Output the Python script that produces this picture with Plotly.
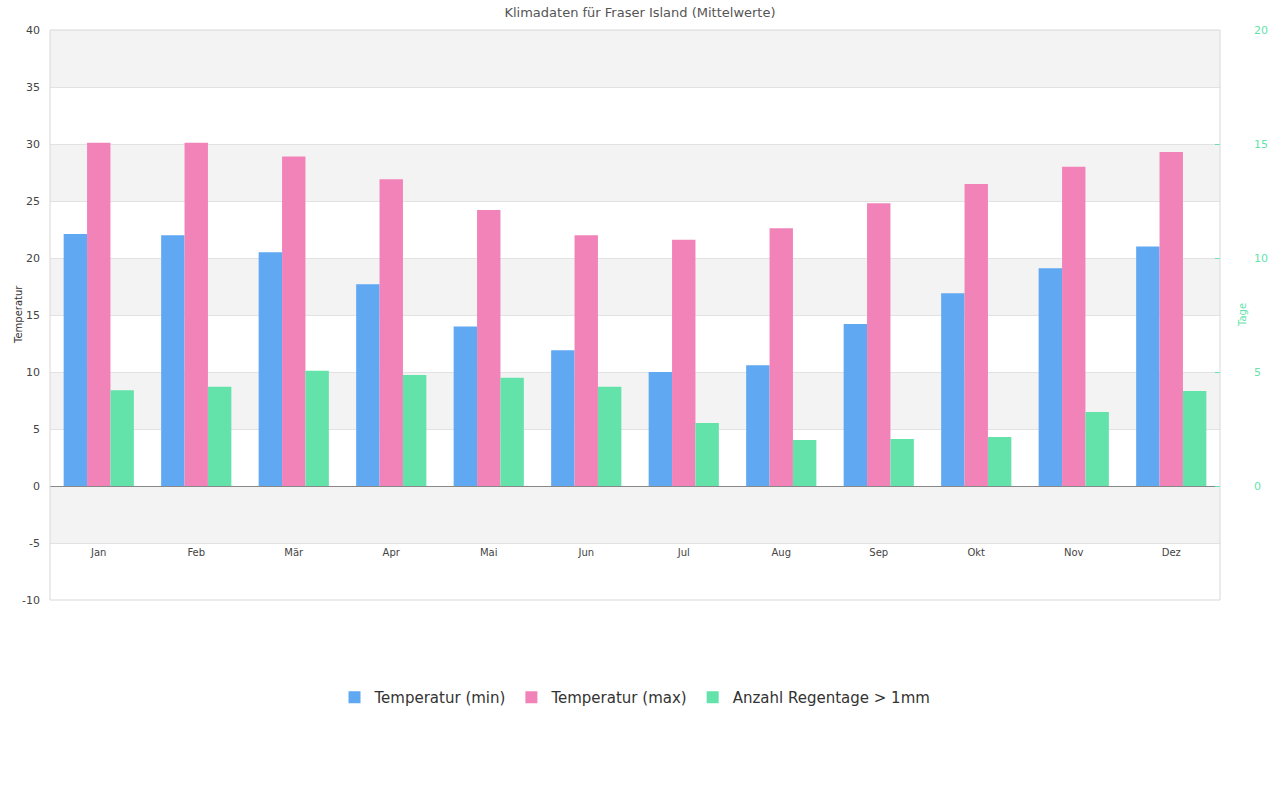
import plotly.graph_objects as go

months = ["Jan", "Feb", "Mär", "Apr", "Mai", "Jun", "Jul", "Aug", "Sep", "Okt", "Nov", "Dez"]
temp_min = [22.1, 22.0, 20.5, 17.7, 14.0, 11.9, 10.0, 10.6, 14.2, 16.9, 19.1, 21.0]
temp_max = [30.1, 30.1, 28.9, 26.9, 24.2, 22.0, 21.6, 22.6, 24.8, 26.5, 28.0, 29.3]
rain_days = [4.2, 4.35, 5.05, 4.87, 4.75, 4.35, 2.76, 2.02, 2.06, 2.15, 3.25, 4.17]

left_ticks = [-10, -5, 0, 5, 10, 15, 20, 25, 30, 35, 40]
left_tick_text = ["-10", "-5", "0", "5", "10", "15", "20", "25", "30", "35", "40"]
right_ticks = [0, 5, 10, 15, 20]
bands = [(35, 40), (25, 30), (15, 20), (5, 10), (-5, 0)]

BLUE = "#61a8f3"
PINK = "#f283b9"
GREEN = "#63e3aa"
FONT = "DejaVu Sans"

fig = go.Figure()
fig.add_trace(go.Bar(x=months, y=temp_min, name="Temperatur (min)", marker=dict(color=BLUE, line=dict(width=0)),
                     width=0.24, offset=-0.36, yaxis="y"))
fig.add_trace(go.Bar(x=months, y=temp_max, name="Temperatur (max)", marker=dict(color=PINK, line=dict(width=0)),
                     width=0.24, offset=-0.12, yaxis="y"))
fig.add_trace(go.Bar(x=months, y=rain_days, name="Anzahl Regentage > 1mm", marker=dict(color=GREEN, line=dict(width=0)),
                     width=0.24, offset=0.12, yaxis="y2"))

shapes = []
for lo, hi in bands:
    shapes.append(dict(type="rect", xref="paper", yref="y", x0=0, x1=1, y0=lo, y1=hi,
                       fillcolor="#f3f3f3", line=dict(width=0), layer="below"))
shapes.append(dict(type="rect", xref="paper", yref="paper", x0=0, x1=1, y0=0, y1=1,
                   line=dict(color="#d8d8d8", width=1), fillcolor="rgba(0,0,0,0)", layer="above"))

annotations = [
    dict(text="Temperatur", xref="paper", yref="paper", x=0, y=0.5, xshift=-32, textangle=-90,
         showarrow=False, font=dict(size=10, color="#333333"), xanchor="center", yanchor="middle"),
    dict(text="Tage", xref="paper", yref="paper", x=1, y=0.5, xshift=22, textangle=-90,
         showarrow=False, font=dict(size=10, color=GREEN), xanchor="center", yanchor="middle"),
]

fig.update_layout(
    width=1280, height=800,
    margin=dict(l=50, r=60, t=30, b=200),
    paper_bgcolor="white", plot_bgcolor="white",
    font=dict(family=FONT, color="#333333"),
    title=dict(text="Klimadaten für Fraser Island (Mittelwerte)", x=0.5, xanchor="center",
               y=0.985, yanchor="middle", font=dict(size=13, color="#555555")),
    barmode="overlay",
    showlegend=True,
    legend=dict(orientation="h", x=0.5, xanchor="center", y=-0.171, yanchor="middle",
                font=dict(size=15, color="#333333")),
    shapes=shapes,
    annotations=annotations,
    xaxis=dict(anchor="free", position=0.097, showline=False, showgrid=False, ticks="", automargin=False,
               tickfont=dict(size=10, color="#444444"), range=[-0.5, 11.5], fixedrange=True),
    yaxis=dict(range=[-10, 40], tickvals=left_ticks, ticktext=left_tick_text, showgrid=True,
               gridcolor="#e2e2e2", gridwidth=1, automargin=False,
               zeroline=True, zerolinecolor="#888888", zerolinewidth=1,
               tickfont=dict(size=11, color="#444444"), ticks="", ticklabelstandoff=9),
    yaxis2=dict(overlaying="y", side="right", range=[-5, 20], tickvals=right_ticks, showgrid=False,
                zeroline=False, ticks="inside", ticklen=5, tickcolor=GREEN, automargin=False,
                ticklabelstandoff=33, tickfont=dict(size=11, color=GREEN)),
)

fig.write_html("out.html")
